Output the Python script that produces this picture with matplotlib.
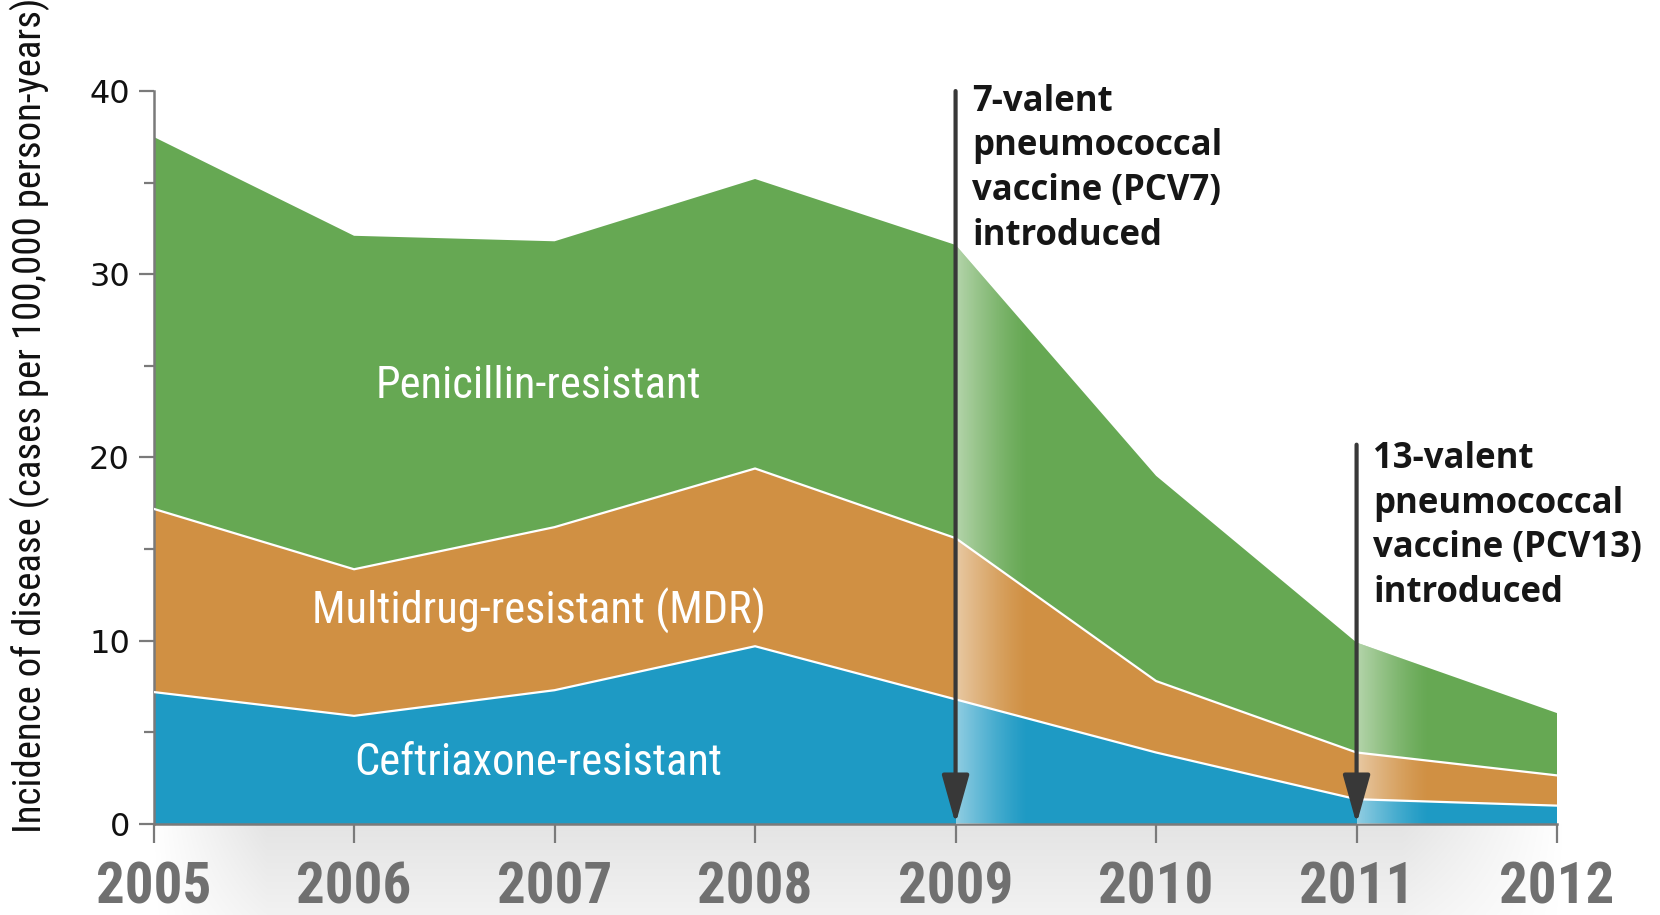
"""Stacked area chart: antibiotic-resistant pneumococcal disease incidence, 2005-2012."""

import matplotlib

matplotlib.use("Agg")

import matplotlib.pyplot as plt
import numpy as np
from matplotlib import font_manager
from matplotlib.patches import Polygon

years = [2005, 2006, 2007, 2008, 2009, 2010, 2011, 2012]
# band thicknesses (stacked bottom to top)
ceftriaxone = [7.2, 5.9, 7.3, 9.7, 6.8, 3.9, 1.35, 1.0]
multidrug = [10.0, 8.0, 8.9, 9.7, 8.8, 3.9, 2.55, 1.65]
penicillin = [20.3, 18.2, 15.6, 15.8, 16.0, 11.2, 6.0, 3.4]

band_names = ["Ceftriaxone-resistant", "Multidrug-resistant (MDR)", "Penicillin-resistant"]
band_label_y = [3.35, 11.6, 23.9]
band_label_x = 2006.92

vaccine_years = [2009, 2011]
vaccine_arrow_top = [40.0, 20.7]
vaccine_text_top = [40.4, 20.9]
vaccine_text = [
    "7-valent\npneumococcal\nvaccine (PCV7)\nintroduced",
    "13-valent\npneumococcal\nvaccine (PCV13)\nintroduced",
]

y_ticks = [0, 10, 20, 30, 40]
y_label = "Incidence of disease (cases per 100,000 person-years)"

BLUE = "#1e9ac4"
ORANGE = "#d09043"
GREEN = "#66a853"
ARROW = "#383838"
AXIS_GRAY = "#7a7a7a"


def _pick_font(candidates):
    available = {f.name for f in font_manager.fontManager.ttflist}
    for name in candidates:
        if name in available:
            return name
    return "DejaVu Sans"


narrow = _pick_font(["Liberation Sans Narrow", "Roboto Condensed", "Open Sans Condensed", "Liberation Sans"])
text_font = _pick_font(["Open Sans", "Lato", "DejaVu Sans"])

fig = plt.figure(figsize=(16.6, 9.15), dpi=100)
ax = fig.add_axes([0.0925, 0.0995, 0.8455, 0.801])
ax.set_zorder(2)

# light gray band under the x axis
bg = fig.add_axes([0.0, 0.0, 1.0, 0.0995])
bg.set_zorder(0)
bg.axis("off")
xs = np.linspace(0, 1, 600)
ys = np.linspace(0, 1, 60)
left_fade = np.clip((xs - 0.09) / 0.07, 0, 1)
right_fade = np.clip((0.945 - xs) / 0.10, 0, 1)
h = left_fade * right_fade
v = 0.5 + 0.5 * ys  # darker near the axis (top of band)
alpha = np.outer(v, h) * 0.11
band = np.zeros((60, 600, 4))
band[..., 3] = alpha
bg.imshow(band, extent=(0, 1, 0, 1), origin="lower", aspect="auto", interpolation="bilinear")
bg.set_xlim(0, 1)
bg.set_ylim(0, 1)

layers = [ceftriaxone, multidrug, penicillin]
ax.stackplot(years, *layers, colors=[BLUE, ORANGE, GREEN], linewidth=0, zorder=1)

cum = np.cumsum(np.array(layers, dtype=float), axis=0)
for row in cum[:2]:
    ax.plot(years, row, color="white", lw=1.6, zorder=4)

# white fades to the right of each vaccine arrow, clipped to the stacked area
verts = list(zip(years, cum[-1])) + [(years[-1], 0), (years[0], 0)]
clip = Polygon(verts, closed=True, transform=ax.transData)
fade = np.ones((2, 256, 4))
fade[..., 3] = np.linspace(0.6, 0.0, 256) ** 1.3
for yr in vaccine_years:
    im = ax.imshow(fade, extent=(yr, yr + 0.36, 0, 40), aspect="auto",
                   interpolation="bilinear", zorder=3)
    im.set_clip_path(clip)

for yr, top, ttop, label in zip(vaccine_years, vaccine_arrow_top, vaccine_text_top, vaccine_text):
    ax.annotate("", xy=(yr, 0), xytext=(yr, top),
                arrowprops=dict(arrowstyle="-|>,head_length=1.5,head_width=0.42",
                                mutation_scale=20, lw=3, color=ARROW,
                                shrinkA=0, shrinkB=0),
                zorder=6, annotation_clip=False)
    ax.text(yr + 0.082, ttop, label, ha="left", va="top", fontsize=25,
            fontfamily=text_font, fontweight="bold", color="#161616",
            linespacing=1.32, zorder=7, clip_on=False)

for name, yl in zip(band_names, band_label_y):
    ax.text(band_label_x, yl, name, ha="center", va="center", fontsize=32,
            fontfamily=narrow, color="white", zorder=5)

ax.set_xlim(years[0], years[-1])
ax.set_ylim(0, 40)
ax.set_xticks(years)
ax.set_xticklabels([str(y) for y in years], fontsize=41, fontfamily=narrow,
                   fontweight="bold", color="#707070")
ax.set_yticks(y_ticks)
ax.set_yticks([5, 15, 25, 35], minor=True)
ax.set_yticklabels([str(t) for t in y_ticks], fontsize=23, fontfamily="DejaVu Sans",
                   color="#111111")
ax.tick_params(axis="x", length=14, width=1.6, color=AXIS_GRAY, pad=12)
ax.tick_params(axis="y", which="major", length=11, width=1.6, color=AXIS_GRAY, pad=6)
ax.tick_params(axis="y", which="minor", length=7, width=1.6, color=AXIS_GRAY)
ax.set_ylabel(y_label, fontsize=28, fontfamily=narrow, color="#111111")
ax.yaxis.set_label_coords(-0.074, 0.557)

for side in ("top", "right"):
    ax.spines[side].set_visible(False)
for side in ("left", "bottom"):
    ax.spines[side].set_color(AXIS_GRAY)
    ax.spines[side].set_linewidth(1.8)
ax.set_facecolor("none")

fig.savefig("out.png", dpi=100)
